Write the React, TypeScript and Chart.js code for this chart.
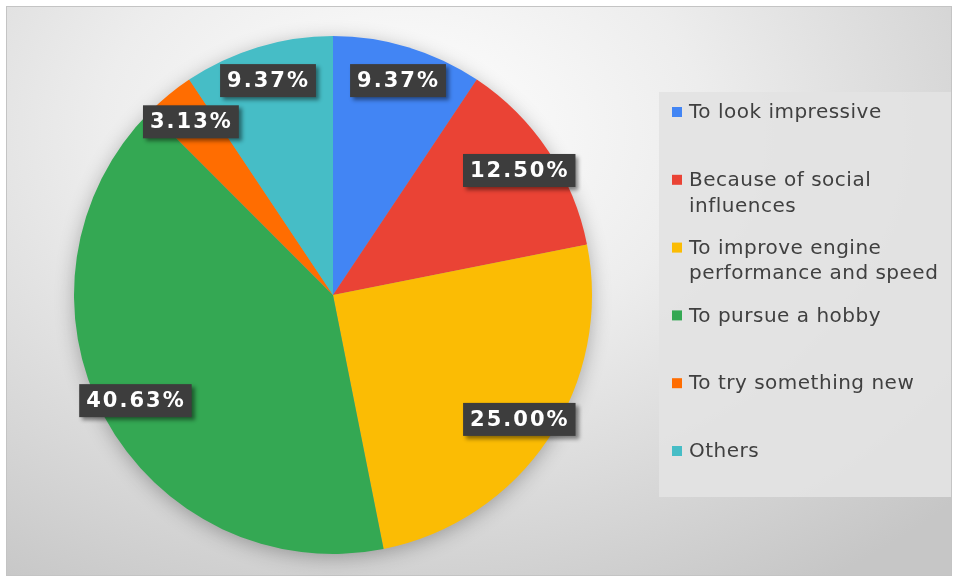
import React, { useEffect, useRef } from "react";
import { Chart, registerables } from "chart.js";

Chart.register(...registerables);

const categories: string[][] = [
  ["To look impressive"],
  ["Because of social", "influences"],
  ["To improve engine", "performance and speed"],
  ["To pursue a hobby"],
  ["To try something new"],
  ["Others"],
];
const values = [9.37, 12.5, 25.0, 40.63, 3.13, 9.37];
const valueLabels = ["9.37%", "12.50%", "25.00%", "40.63%", "3.13%", "9.37%"];
const colors = ["#4285F4", "#EA4335", "#FBBC04", "#34A853", "#FF6D01", "#46BDC6"];

const pieShadow = {
  id: "pieShadow",
  beforeDatasetsDraw(chart: any) {
    const arc = chart.getDatasetMeta(0).data[0];
    if (!arc) return;
    const { x, y, outerRadius } = arc.getProps(["x", "y", "outerRadius"], true);
    const ctx = chart.ctx;
    ctx.save();
    ctx.shadowColor = "rgba(0,0,0,0.3)";
    ctx.shadowBlur = 20;
    ctx.shadowOffsetX = 0;
    ctx.shadowOffsetY = 4;
    ctx.fillStyle = "#999";
    ctx.beginPath();
    ctx.arc(x, y, outerRadius - 1, 0, Math.PI * 2);
    ctx.fill();
    ctx.restore();
  },
};

const valueBoxes = {
  id: "valueBoxes",
  afterDatasetsDraw(chart: any) {
    const ctx = chart.ctx;
    const meta = chart.getDatasetMeta(0);
    const f = 0.865;
    meta.data.forEach((el: any, i: number) => {
      const { x, y, startAngle, endAngle, outerRadius } = el.getProps(
        ["x", "y", "startAngle", "endAngle", "outerRadius"],
        true
      );
      const mid = (startAngle + endAngle) / 2;
      const px = x + Math.cos(mid) * outerRadius * f;
      const py = y + Math.sin(mid) * outerRadius * f;
      const text = valueLabels[i];
      ctx.save();
      ctx.font = "bold 21px 'DejaVu Sans'";
      (ctx as any).letterSpacing = "2px";
      const tw = ctx.measureText(text).width;
      const w = tw + 13;
      const h = 33;
      ctx.shadowColor = "rgba(0,0,0,0.45)";
      ctx.shadowBlur = 4;
      ctx.shadowOffsetX = 3;
      ctx.shadowOffsetY = 3;
      ctx.fillStyle = "#3d3d3d";
      ctx.fillRect(px - w / 2, py - h / 2, w, h);
      ctx.shadowColor = "transparent";
      ctx.fillStyle = "#ffffff";
      ctx.textAlign = "left";
      ctx.textBaseline = "middle";
      ctx.fillText(text, px - w / 2 + 7, py + 1);
      ctx.restore();
    });
  },
};

const sideLegend = {
  id: "sideLegend",
  afterDraw(chart: any) {
    const ctx = chart.ctx;
    const labels = chart.data.labels as string[][];
    const bg = chart.data.datasets[0].backgroundColor as string[];
    ctx.save();
    ctx.fillStyle = "rgba(227,227,227,0.92)";
    ctx.fillRect(659, 92, 292, 405);
    ctx.font = "20px 'DejaVu Sans'";
    (ctx as any).letterSpacing = "0.5px";
    ctx.textBaseline = "middle";
    ctx.textAlign = "left";
    const startY = 112;
    const step = 67.8;
    const lineH = 25.5;
    labels.forEach((lines, i) => {
      const yy = startY + i * step;
      ctx.fillStyle = bg[i];
      ctx.fillRect(672, yy - 5, 10, 10);
      ctx.fillStyle = "#404040";
      lines.forEach((ln, j) => {
        ctx.fillText(ln, 689, yy + 1 + j * lineH);
      });
    });
    ctx.restore();
  },
};

export default function App() {
  const ref = useRef<HTMLCanvasElement>(null);
  useEffect(() => {
    const chart = new Chart(ref.current!, {
      type: "pie",
      data: {
        labels: categories as any,
        datasets: [
          {
            data: values,
            backgroundColor: colors,
            borderWidth: 0,
          },
        ],
      },
      options: {
        responsive: false,
        animation: false,
        layout: { padding: { left: 74, right: 364, top: 36, bottom: 25 } },
        plugins: {
          legend: { display: false },
          tooltip: { enabled: false },
        },
      },
      plugins: [pieShadow, valueBoxes, sideLegend],
    });
    return () => chart.destroy();
  }, []);
  return (
    <div style={{ position: "fixed", left: 0, top: 0, width: 956, height: 579, background: "#fff" }}>
      <div
        style={{
          position: "absolute",
          left: 6,
          top: 6,
          width: 944,
          height: 568,
          border: "1px solid #c4c4c4",
          background:
            "radial-gradient(ellipse 80% 95% at 42% 22%, #ffffff 0%, #ededed 40%, #c6c6c6 100%)",
        }}
      />
      <canvas
        ref={ref}
        width={956}
        height={579}
        style={{ position: "absolute", left: 0, top: 0, width: 956, height: 579 }}
      />
    </div>
  );
}
